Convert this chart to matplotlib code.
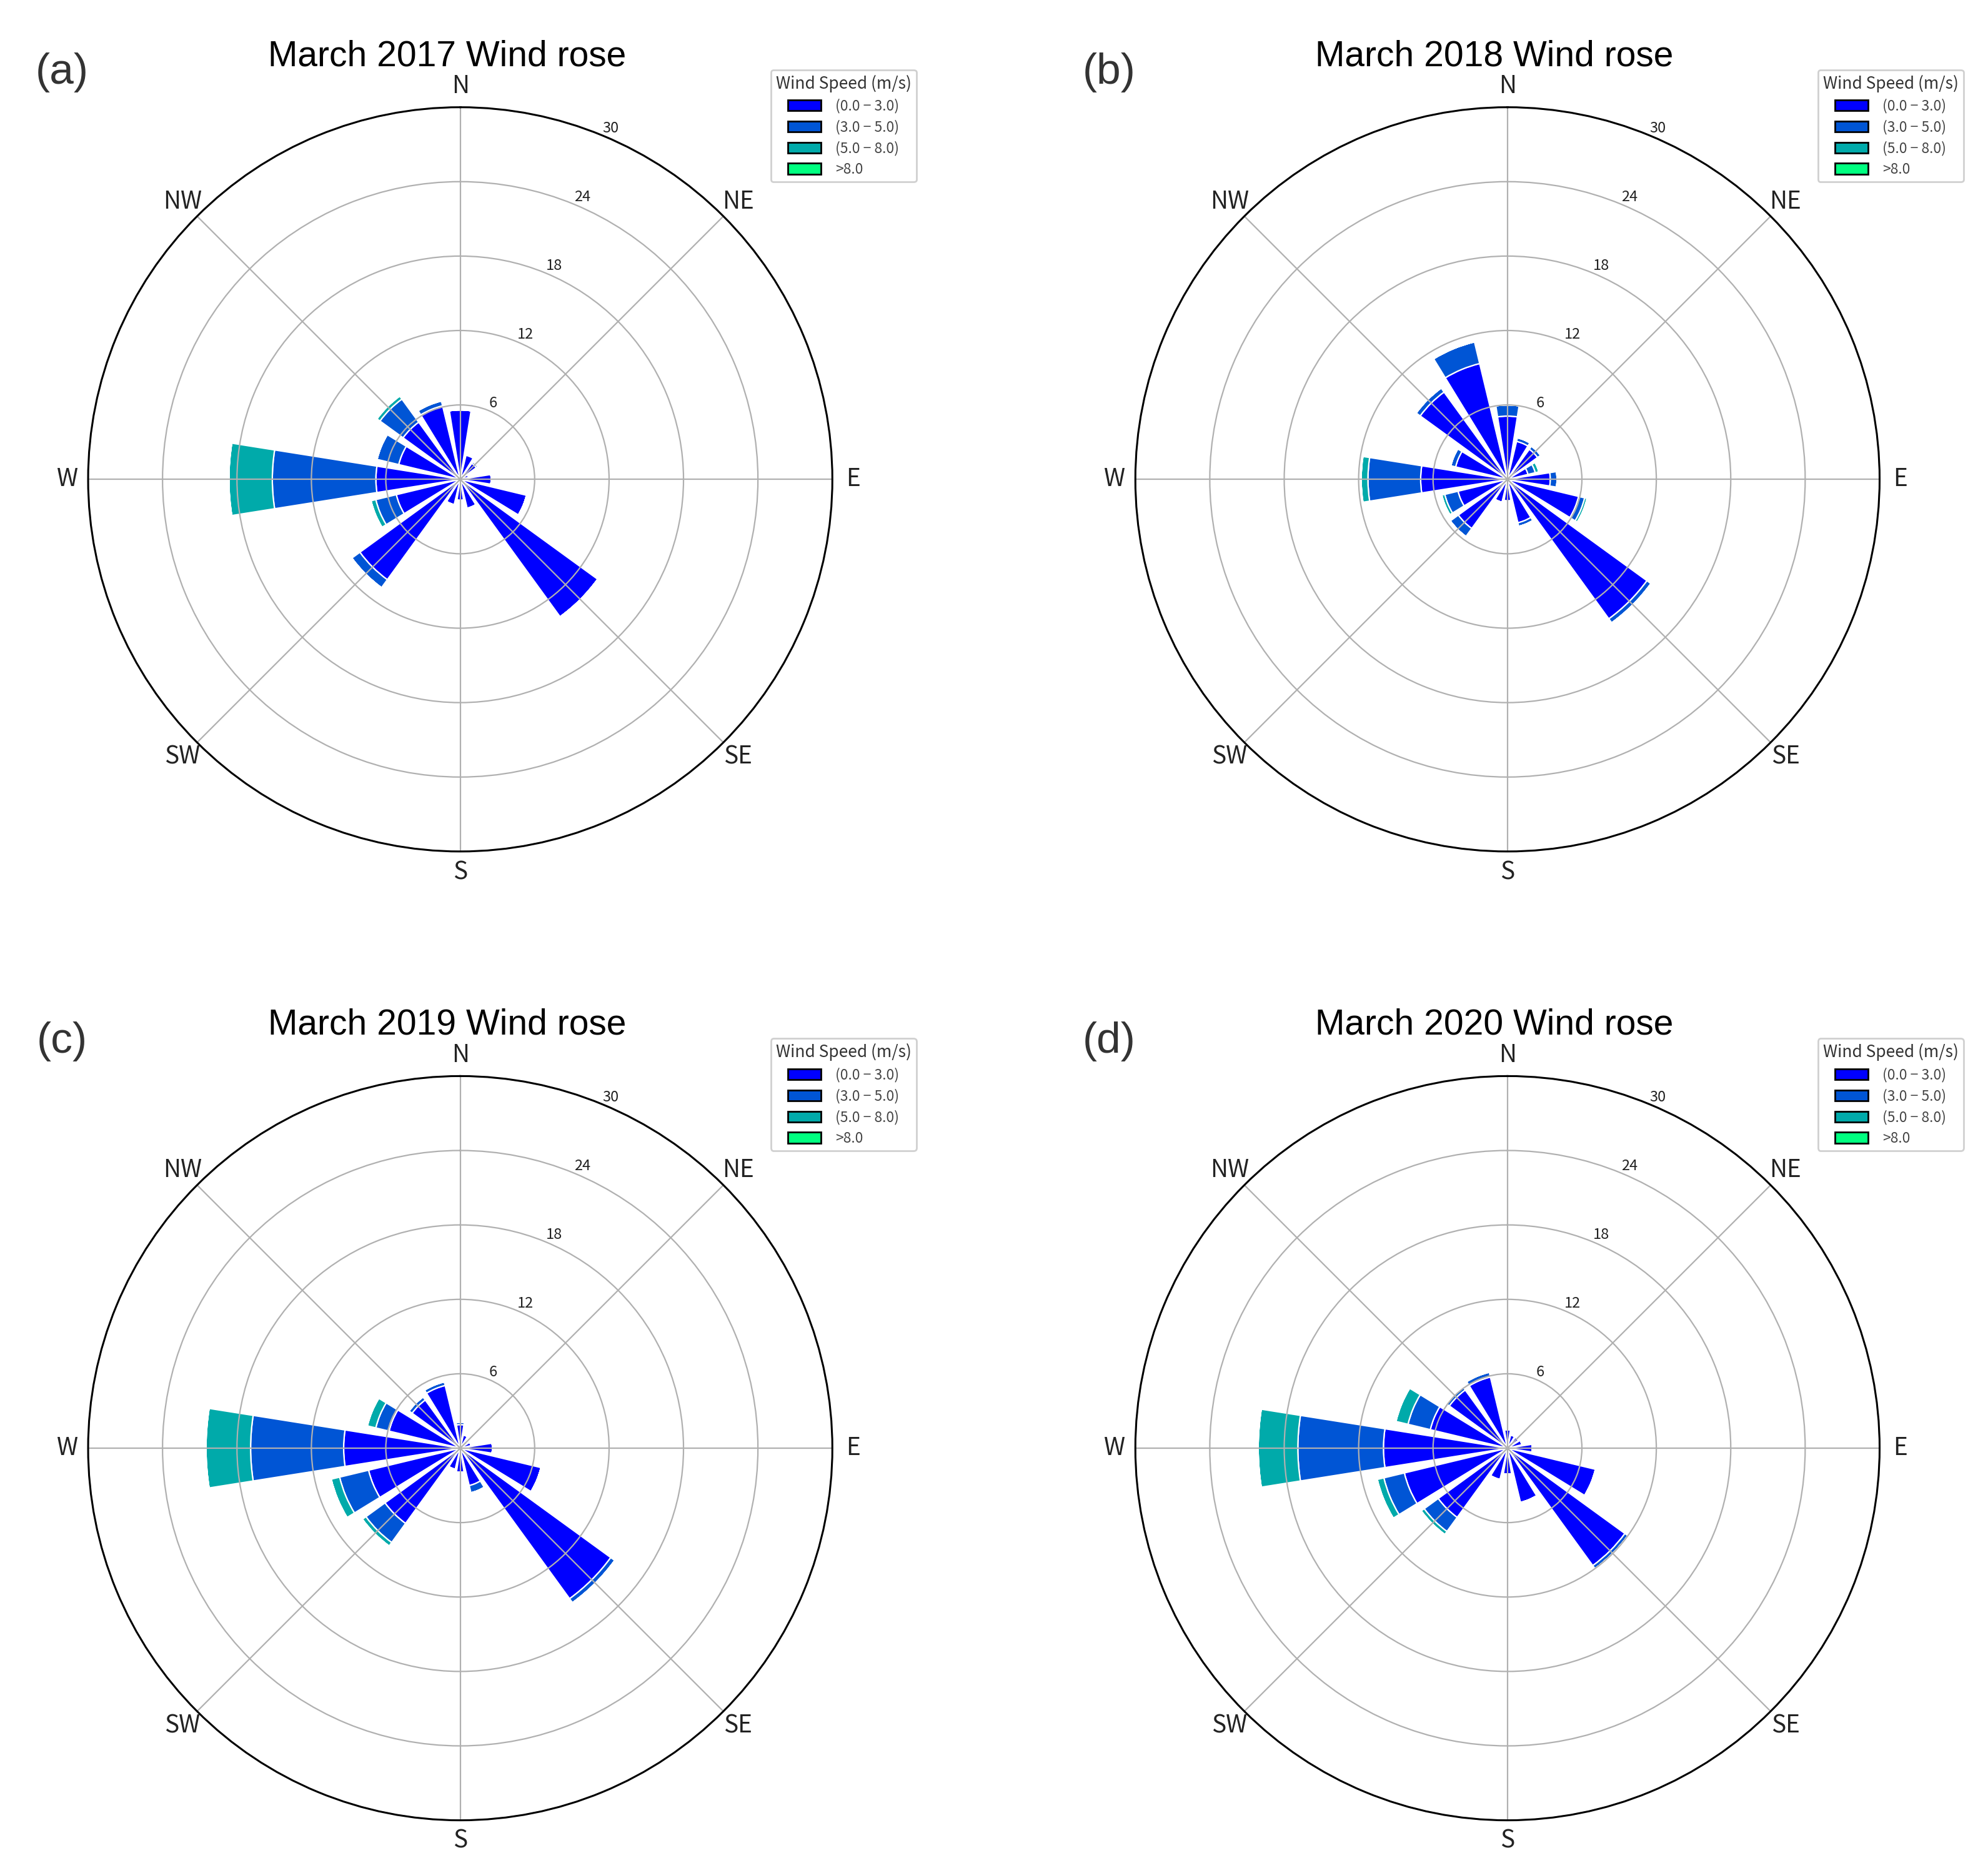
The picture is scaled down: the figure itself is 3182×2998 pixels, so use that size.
import numpy as np
import matplotlib.pyplot as plt
from matplotlib.patches import Patch

plt.rcParams['font.family'] = ['Noto Sans CJK KR', 'DejaVu Sans']

# 16 sectors, clockwise from north
directions = ['N', 'NNE', 'NE', 'ENE', 'E', 'ESE', 'SE', 'SSE',
              'S', 'SSW', 'SW', 'WSW', 'W', 'WNW', 'NW', 'NNW']
compass_labels = ['N', 'NE', 'E', 'SE', 'S', 'SW', 'W', 'NW']
speed_labels = ['(0.0 \u2212 3.0)', '(3.0 \u2212 5.0)', '(5.0 \u2212 8.0)', '>8.0']
rings = [6, 12, 18, 24, 30]

# frequency (%) per direction and speed class
y2017_0_3 = [5.6, 2.0, 1.6, 0.7, 2.5, 5.5, 13.7, 2.4, 1.7, 2.1, 10.0, 5.3, 6.8, 5.1, 5.7, 6.1]
y2017_3_5 = [0.0, 0.1, 0.15, 0.0, 0.0, 0.0, 0.0, 0.0, 0.0, 0.0, 0.8, 1.7, 8.35, 1.8, 2.3, 0.4]
y2017_5_8 = [0.0, 0.0, 0.0, 0.0, 0.0, 0.0, 0.0, 0.0, 0.0, 0.0, 0.0, 0.4, 3.5, 0.0, 0.3, 0.0]
y2017_8 = [0.0] * 16

y2018_0_3 = [5.1, 3.15, 3.0, 1.7, 3.45, 5.9, 13.9, 3.6, 1.75, 1.9, 4.9, 4.1, 7.0, 4.3, 8.7, 9.6]
y2018_3_5 = [0.9, 0.3, 0.3, 0.6, 0.55, 0.5, 0.4, 0.3, 0.0, 0.0, 0.8, 1.1, 4.25, 0.4, 0.4, 1.8]
y2018_5_8 = [0.0, 0.0, 0.0, 0.3, 0.0, 0.2, 0.0, 0.0, 0.0, 0.0, 0.0, 0.25, 0.55, 0.0, 0.0, 0.0]
y2018_8 = [0.0] * 16

y2019_0_3 = [1.9, 1.1, 0.7, 0.9, 2.6, 6.7, 15.0, 3.1, 1.95, 1.75, 7.5, 7.6, 9.4, 5.9, 4.8, 5.2]
y2019_3_5 = [0.2, 0.0, 0.1, 0.0, 0.0, 0.0, 0.4, 0.6, 0.0, 0.0, 1.9, 2.4, 7.5, 1.1, 0.3, 0.3]
y2019_5_8 = [0.0, 0.0, 0.0, 0.0, 0.0, 0.0, 0.0, 0.0, 0.0, 0.0, 0.35, 0.7, 3.6, 0.7, 0.0, 0.0]
y2019_8 = [0.0] * 16

y2020_0_3 = [1.5, 1.1, 1.1, 1.2, 2.0, 7.3, 11.7, 4.5, 2.1, 2.6, 6.9, 8.55, 10.0, 6.4, 5.8, 5.9]
y2020_3_5 = [0.0, 0.0, 0.0, 0.0, 0.0, 0.0, 0.3, 0.0, 0.0, 0.0, 1.4, 1.7, 6.9, 1.85, 0.3, 0.4]
y2020_5_8 = [0.0, 0.0, 0.0, 0.0, 0.0, 0.0, 0.0, 0.0, 0.0, 0.0, 0.3, 0.55, 3.2, 1.0, 0.0, 0.0]
y2020_8 = [0.0] * 16

colors = plt.get_cmap('winter')(np.linspace(0, 1, 4))

fig = plt.figure(figsize=(15.91, 14.99), dpi=200)


def draw_rose(cx, cy, series, title, tag):
    """
    Draws one stacked wind rose centred at (cx, cy) in figure fractions,
    with its title, panel tag and speed legend.
    """
    hw, hh = 293.5 / 1568, 293.5 / 1477
    ax = fig.add_axes([cx - hw, cy - hh, 2 * hw, 2 * hh], projection='polar')
    ax.set_theta_zero_location('N')
    ax.set_theta_direction(-1)

    theta = np.deg2rad(np.arange(len(directions)) * 22.5)
    width = np.deg2rad(22.5) * 0.8
    offset = np.zeros(len(directions))
    for vals, color in zip(series, colors):
        vals = np.asarray(vals, dtype=float)
        ax.bar(theta, vals, width=width, bottom=offset, color=color,
               edgecolor='white', linewidth=0.8, align='center')
        offset += vals

    ax.set_ylim(0, 30)
    ax.set_yticks(rings)
    ax.set_yticklabels([str(r) for r in rings], fontsize=8.5, color='#222222')
    ax.set_rlabel_position(22.5)
    ax.set_thetagrids(np.arange(0, 360, 45), compass_labels, fontsize=14, color='#222222')
    ax.tick_params(axis='x', pad=1.5)
    ax.grid(color='#b0b0b0', linewidth=0.8)
    ax.spines['polar'].set_linewidth(1.1)

    handles = [Patch(facecolor=c, edgecolor='black', linewidth=1) for c in colors]
    leg = ax.legend(handles, speed_labels, title='Wind Speed (m/s)',
                    loc='upper right', bbox_to_anchor=(cx + 0.2294, cy + 0.2187),
                    bbox_transform=fig.transFigure, borderaxespad=0,
                    fontsize=8.3, title_fontsize=9.5, handlelength=2.3,
                    handleheight=0.78, labelspacing=0.45, handletextpad=1.0,
                    borderpad=0.35, fancybox=True, framealpha=1, edgecolor='#d0d0d0')
    leg.get_title().set_color('#333333')
    for t in leg.get_texts():
        t.set_color('#444444')

    fig.text(cx - 0.0067, cy + 0.2209, title, fontsize=20.5, ha='center',
             va='baseline', family='Liberation Sans')
    fig.text(cx - 0.2003, cy + 0.2172, tag, fontsize=25, ha='center',
             va='center', family='Liberation Sans', color='#333333')
    return ax


cx_left, cx_right = 363 / 1568, 1189 / 1568
cy_top, cy_bottom = 1 - 378 / 1477, 1 - 1142 / 1477

draw_rose(cx_left, cy_top, [y2017_0_3, y2017_3_5, y2017_5_8, y2017_8], 'March 2017 Wind rose', '(a)')
draw_rose(cx_right, cy_top, [y2018_0_3, y2018_3_5, y2018_5_8, y2018_8], 'March 2018 Wind rose', '(b)')
draw_rose(cx_left, cy_bottom, [y2019_0_3, y2019_3_5, y2019_5_8, y2019_8], 'March 2019 Wind rose', '(c)')
draw_rose(cx_right, cy_bottom, [y2020_0_3, y2020_3_5, y2020_5_8, y2020_8], 'March 2020 Wind rose', '(d)')

plt.savefig('out.png', dpi=200, facecolor='white')
